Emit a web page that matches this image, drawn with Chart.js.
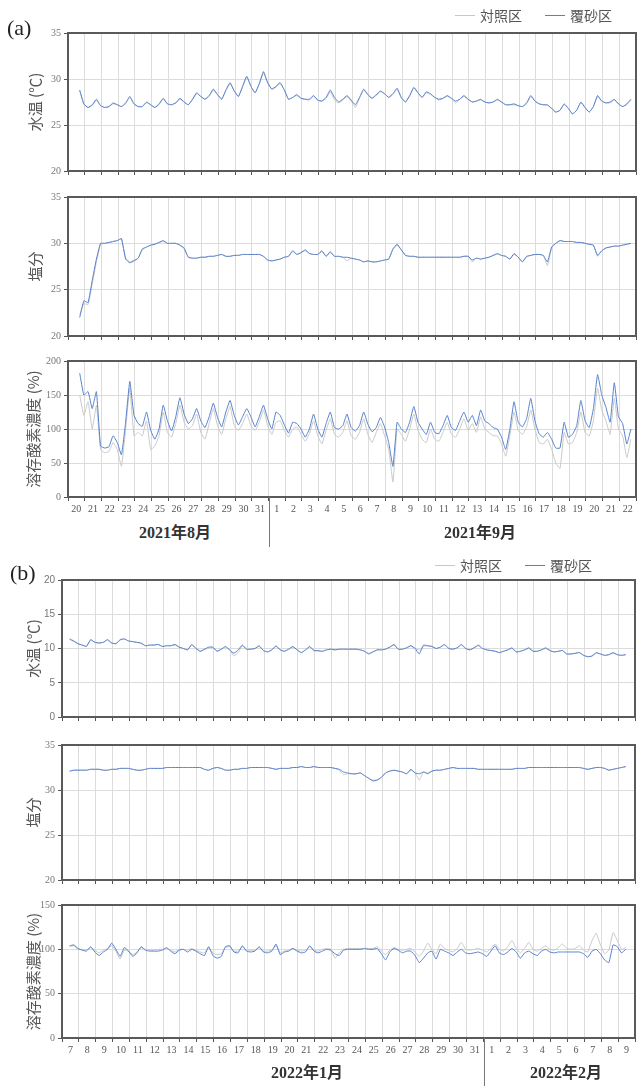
<!DOCTYPE html>
<html><head><meta charset="utf-8">
<script src="https://cdn.jsdelivr.net/npm/chart.js@4.4.1/dist/chart.umd.min.js"></script>
<style>
body{margin:0;background:#fff;width:638px;height:1086px;position:relative;overflow:hidden;font-family:'Noto Sans CJK JP',sans-serif;}
canvas{position:absolute;left:0;}
.t{position:absolute;white-space:nowrap;line-height:1;}
.tag{font-family:'Liberation Serif',serif;font-size:22px;color:#222;}
.lg{font-size:14px;color:#555;display:flex;align-items:center;}
.lg i{display:inline-block;width:20px;height:0;border-top:1.5px solid;margin-right:5px;}
.mon{font-family:'Liberation Serif','Noto Sans CJK JP',serif;font-weight:bold;font-size:16px;color:#333;transform:translate(-50%,-50%);}
.sep{position:absolute;width:1px;background:#777;}
</style></head><body>
<script>
// ---------- DATA ----------
const daysA = ['20','21','22','23','24','25','26','27','28','29','30','31','1','2','3','4','5','6','7','8','9','10','11','12','13','14','15','16','17','18','19','20','21','22'];
const daysB = ['7','8','9','10','11','12','13','14','15','16','17','18','19','20','21','22','23','24','25','26','27','28','29','30','31','1','2','3','4','5','6','7','8','9'];
const monthsA = ['2021年8月','2021年9月'];
const monthsB = ['2022年1月','2022年2月'];
const seriesNames = ['対照区','覆砂区'];
const startA = 0.7, startB = 0.45, stepDays = 0.25;

const tempA_sand = [28.8,27.3,
26.9,27.2,27.8,27.1, 26.9,27.0,27.4,27.2, 27.0,27.4,28.1,27.3, 27.0,27.0,27.5,27.2,
26.9,27.3,27.9,27.3, 27.2,27.4,27.9,27.5, 27.2,27.8,28.5,28.1, 27.8,28.2,28.9,28.3,
27.8,28.8,29.6,28.7, 28.1,29.2,30.3,29.2, 28.5,29.5,30.8,29.6, 28.9,29.2,29.6,28.8,
27.8,28.0,28.3,27.9, 27.8,27.8,28.2,27.7, 27.6,28.0,28.8,28.0, 27.5,27.8,28.2,27.7,
27.2,28.0,28.9,28.3, 27.9,28.3,28.7,28.4, 28.0,28.4,29.0,28.0, 27.5,28.2,29.1,28.5,
28.0,28.6,28.4,28.0, 27.8,27.9,28.2,27.9, 27.6,27.8,28.2,27.8, 27.5,27.6,27.8,27.5,
27.4,27.5,27.8,27.5, 27.2,27.2,27.3,27.1, 27.0,27.4,28.2,27.6, 27.3,27.2,27.2,26.8,
26.4,26.6,27.3,26.8, 26.2,26.6,27.5,26.9, 26.4,27.0,28.2,27.6, 27.4,27.5,27.8,27.3,
27.0,27.3,27.8];
const tempA_ctrl = [28.7,27.2,
26.9,27.1,27.7,27.1, 26.9,27.0,27.3,27.2, 27.0,27.3,28.0,27.3, 27.0,27.0,27.4,27.2,
26.9,27.2,27.8,27.3, 27.2,27.4,27.8,27.5, 27.2,27.7,28.4,28.1, 27.8,28.1,28.8,28.3,
27.8,28.7,29.5,28.7, 28.1,29.1,30.2,29.2, 28.5,29.4,30.7,29.6, 28.9,29.1,29.5,28.8,
27.8,28.0,28.2,27.9, 27.8,27.7,28.1,27.7, 27.6,27.9,28.6,27.7, 27.4,27.7,28.1,27.6,
26.9,27.9,28.8,28.3, 27.9,28.2,28.6,28.4, 28.0,28.3,28.9,27.9, 27.5,28.1,29.0,28.5,
28.0,28.5,28.3,28.0, 27.7,27.9,28.1,27.9, 27.4,27.8,28.1,27.8, 27.5,27.6,27.7,27.5,
27.4,27.5,27.7,27.5, 27.2,27.2,27.2,27.1, 27.0,27.3,28.1,27.6, 27.3,27.2,27.1,26.8,
26.4,26.6,27.2,26.8, 26.2,26.6,27.4,26.9, 26.4,27.0,28.1,27.6, 27.4,27.4,27.7,27.3,
27.0,27.2,27.7];

const salA_sand = [22.0,23.8,
23.6,26.0,28.3,30.0, 30.0,30.1,30.2,30.3, 30.5,28.3,27.9,28.1, 28.4,29.4,29.6,29.8,
29.9,30.1,30.3,30.0, 30.0,30.0,29.8,29.5, 28.5,28.4,28.4,28.5, 28.5,28.6,28.6,28.7,
28.8,28.6,28.6,28.7, 28.7,28.8,28.8,28.8, 28.8,28.8,28.6,28.2, 28.1,28.2,28.3,28.5,
28.6,29.2,28.8,29.0, 29.3,28.9,28.8,28.8, 29.2,28.6,29.1,28.6, 28.6,28.5,28.5,28.4,
28.3,28.2,28.0,28.1, 28.0,28.0,28.1,28.2, 28.3,29.4,29.9,29.3, 28.7,28.6,28.6,28.5,
28.5,28.5,28.5,28.5, 28.5,28.5,28.5,28.5, 28.5,28.5,28.6,28.6, 28.2,28.4,28.3,28.4,
28.5,28.7,28.9,28.7, 28.6,28.3,28.9,28.5, 28.0,28.6,28.7,28.8, 28.8,28.7,28.0,29.6,
30.0,30.3,30.2,30.2, 30.2,30.1,30.1,30.0, 29.9,29.8,28.7,29.2, 29.5,29.6,29.7,29.7,
29.8,29.9,30.0];
const salA_ctrl = [22.3,23.5,
23.4,25.6,28.0,29.9, 30.0,30.1,30.2,30.3, 30.5,28.4,28.0,28.2, 28.4,29.3,29.6,29.8,
29.9,30.1,30.2,30.0, 30.0,30.0,29.8,29.4, 28.5,28.4,28.4,28.5, 28.5,28.6,28.6,28.7,
28.8,28.6,28.6,28.7, 28.7,28.8,28.8,28.8, 28.8,28.8,28.6,28.2, 28.1,28.2,28.3,28.5,
28.6,29.1,28.8,29.0, 29.2,28.9,28.8,28.8, 29.1,28.6,29.0,28.6, 28.6,28.5,28.1,28.4,
28.3,28.2,28.0,28.1, 28.0,28.0,28.1,28.2, 28.3,29.3,29.8,29.3, 28.7,28.6,28.6,28.5,
28.5,28.5,28.5,28.5, 28.5,28.5,28.5,28.5, 28.5,28.5,28.6,28.6, 28.0,28.4,28.3,28.4,
28.5,28.7,28.8,28.7, 28.6,28.3,28.8,28.5, 28.0,28.5,28.7,28.8, 28.8,28.7,27.6,29.5,
30.0,30.3,30.2,30.2, 30.2,30.1,30.1,30.0, 29.9,29.8,28.6,29.2, 29.5,29.6,29.7,29.7,
29.8,29.9,30.0];

const doA_sand = [182,150,
155,130,155,75, 72,74,90,80, 62,110,170,120, 108,104,125,98,
85,100,135,112, 97,118,146,122, 108,115,130,112, 102,118,138,117,
103,125,142,120, 106,118,130,118, 103,118,135,115, 100,125,120,106,
94,110,108,100, 88,100,122,100, 88,108,125,102, 100,105,122,102,
97,105,125,107, 96,102,117,103, 80,45,110,100, 95,110,133,110,
100,92,110,95, 93,105,120,102, 98,112,125,110, 120,105,128,112,
108,102,100,88, 70,100,140,110, 103,115,145,112, 93,88,95,85,
72,72,110,88, 92,105,142,112, 102,130,180,150, 132,110,168,118,
108,78,100];
const doA_ctrl = [150,120,
140,100,135,70, 65,67,80,70, 45,100,160,90, 95,90,112,70,
75,90,125,95, 88,108,135,110, 100,105,122,95, 85,108,130,105,
92,115,133,105, 98,108,122,105, 98,110,128,105, 92,110,112,98,
88,100,103,92, 82,93,112,90, 78,98,115,92, 88,95,112,90,
85,95,115,92, 80,95,108,90, 70,22,100,92, 82,100,122,98,
85,80,100,85, 82,95,110,92, 88,100,115,98, 108,95,118,100,
95,90,90,78, 60,90,125,98, 92,103,128,100, 80,78,85,70,
50,42,95,78, 80,95,125,95, 90,112,160,128, 112,92,145,100,
90,58,85];

const tempB_sand = [11.4,11.1,10.7,
10.5,10.3,11.3,10.9, 10.8,10.9,11.3,10.8, 10.7,11.3,11.4,11.1, 11.0,10.9,10.8,10.4,
10.5,10.5,10.6,10.3, 10.4,10.4,10.6,10.2, 10.0,9.8,10.6,10.0, 9.6,9.9,10.2,10.2,
9.6,9.9,10.3,9.8, 9.3,9.8,10.5,9.9, 9.9,10.0,10.4,9.7, 9.5,9.8,10.4,9.8,
9.6,9.9,10.3,9.8, 9.4,9.8,10.3,9.7, 9.7,9.6,9.8,9.9, 9.8,9.9,9.9,9.9,
9.9,9.9,9.8,9.6, 9.2,9.5,9.8,9.8, 9.9,10.2,10.6,9.9, 9.9,10.1,10.4,10.0,
9.2,10.5,10.4,10.3, 10.0,10.2,10.6,10.0, 9.9,10.1,10.6,10.0, 9.8,10.1,10.5,10.0,
9.8,9.7,9.6,9.4, 9.6,9.8,10.1,9.5, 9.6,9.8,10.1,9.6, 9.6,9.8,10.1,9.7,
9.5,9.6,9.7,9.2, 9.2,9.3,9.4,9.0, 8.8,8.9,9.4,9.2, 9.0,9.1,9.4,9.1,
9.0,9.1];
const tempB_ctrl = [11.3,11.0,10.7,
10.5,10.3,11.2,10.9, 10.8,10.9,11.2,10.8, 10.7,11.2,11.4,11.1, 11.0,10.9,10.7,10.4,
10.5,10.5,10.6,10.3, 10.4,10.4,10.5,10.2, 10.0,9.8,10.5,10.0, 9.6,9.8,10.1,10.1,
9.6,9.9,10.2,9.8, 8.9,9.4,10.4,9.9, 9.9,10.0,10.3,9.7, 9.5,9.8,10.3,9.8,
9.6,9.9,10.2,9.8, 9.4,9.8,10.2,9.7, 9.6,9.6,9.8,9.9, 9.8,9.9,9.9,9.9,
9.9,9.9,9.8,9.6, 9.3,9.5,9.8,9.8, 9.9,10.2,10.5,9.9, 9.9,10.1,10.4,10.0,
9.8,10.3,10.4,10.3, 10.0,10.2,10.5,10.0, 9.9,10.1,10.5,10.0, 9.8,10.1,10.4,10.0,
9.8,9.7,9.6,9.4, 9.6,9.8,10.0,9.5, 9.6,9.8,10.0,9.6, 9.6,9.8,10.0,9.7,
9.5,9.6,9.7,9.2, 9.2,9.3,9.4,9.0, 8.8,8.9,9.3,9.2, 9.0,9.1,9.3,9.1,
9.0,9.1];

const salB_sand = [32.1,32.2,32.2,
32.2,32.2,32.3,32.3, 32.3,32.2,32.2,32.3, 32.3,32.4,32.4,32.4, 32.3,32.2,32.2,32.3,
32.4,32.4,32.4,32.4, 32.5,32.5,32.5,32.5, 32.5,32.5,32.5,32.5, 32.5,32.3,32.2,32.4,
32.5,32.4,32.2,32.2, 32.3,32.3,32.4,32.4, 32.5,32.5,32.5,32.5, 32.5,32.4,32.3,32.4,
32.4,32.4,32.5,32.5, 32.6,32.5,32.5,32.6, 32.5,32.5,32.5,32.5, 32.4,32.3,32.0,31.9,
31.8,31.8,31.9,31.6, 31.3,31.0,31.1,31.4, 31.9,32.1,32.2,32.1, 32.0,31.8,32.3,31.9,
31.8,32.0,31.8,32.1, 32.2,32.2,32.3,32.4, 32.5,32.4,32.4,32.4, 32.4,32.4,32.3,32.3,
32.3,32.3,32.3,32.3, 32.3,32.3,32.3,32.4, 32.4,32.4,32.5,32.5, 32.5,32.5,32.5,32.5,
32.5,32.5,32.5,32.5, 32.5,32.5,32.5,32.4, 32.3,32.4,32.5,32.5, 32.4,32.2,32.3,32.4,
32.5,32.6];
const salB_ctrl = [32.1,32.2,32.2,
32.2,32.2,32.3,32.3, 32.3,32.2,32.2,32.3, 32.3,32.4,32.4,32.4, 32.3,32.2,32.2,32.3,
32.4,32.4,32.4,32.4, 32.5,32.5,32.5,32.5, 32.5,32.5,32.5,32.5, 32.5,32.3,32.2,32.4,
32.5,32.4,32.2,32.2, 32.3,32.3,32.4,32.4, 32.5,32.5,32.5,32.5, 32.5,32.4,32.3,32.4,
32.4,32.4,32.5,32.5, 32.6,32.5,32.5,32.6, 32.5,32.5,32.5,32.5, 32.4,32.2,31.7,31.8,
31.8,31.8,31.9,31.6, 31.3,31.1,31.1,31.4, 31.9,32.1,32.2,32.1, 32.0,31.8,32.2,31.9,
31.1,32.0,31.9,32.1, 32.2,32.2,32.3,32.4, 32.5,32.4,32.4,32.4, 32.4,32.4,32.3,32.3,
32.3,32.3,32.3,32.3, 32.3,32.3,32.3,32.4, 32.4,32.4,32.5,32.5, 32.5,32.5,32.5,32.5,
32.5,32.5,32.5,32.5, 32.5,32.5,32.5,32.4, 32.3,32.4,32.5,32.5, 32.4,32.2,32.3,32.4,
32.5,32.6];

const doB_sand = [104,105,101,
99,98,103,97, 93,97,100,107, 100,92,102,98, 92,96,103,99,
98,98,98,99, 102,98,95,99, 100,97,100,98, 95,93,103,93,
90,92,103,104, 97,96,104,98, 97,98,103,97, 96,98,106,94,
97,98,101,98, 96,97,104,98, 96,98,100,99, 95,93,99,100,
100,100,100,101, 100,100,101,95, 88,97,101,99, 96,98,98,93,
85,90,96,98, 89,100,98,96, 93,97,100,96, 95,96,97,95,
92,98,104,96, 94,97,101,97, 90,96,98,95, 93,98,100,97,
96,97,97,97, 97,97,97,95, 91,98,100,95, 88,85,105,103,
96,100];
const doB_ctrl = [103,104,100,
100,99,102,99, 96,99,101,104, 98,89,99,98, 94,97,102,100,
99,99,100,100, 101,99,97,100, 100,99,101,99, 97,96,102,96,
94,95,102,103, 98,98,103,99, 99,99,102,98, 98,99,104,96,
98,99,101,99, 98,99,103,99, 98,100,101,100, 90,96,100,101,
101,101,101,101, 101,101,103,98, 94,99,102,100, 99,100,101,97,
92,98,107,100, 95,106,101,99, 97,101,108,100, 99,100,101,99,
97,101,106,100, 98,103,110,101, 96,101,108,100, 98,101,104,100,
99,102,106,101, 100,101,104,99, 97,110,118,105, 95,99,119,110,
100,102];

// ---------- STYLE / LAYOUT ----------
const BLUE = '#5580cc', GRAY = '#c8c8c8';
const serif = "'Liberation Serif', serif", sans = "'Liberation Sans', 'Open Sans', sans-serif";
const cjk = "'Noto Sans CJK JP', sans-serif";

function toXY(arr, start){ return arr.map((v,i)=>({x:start+i*stepDays, y:v})); }

const framePlugin = {id:'frame', afterDatasetsDraw(c){
  const a=c.chartArea, g=c.ctx; g.save(); g.strokeStyle='#5a5a5a'; g.lineWidth=2;
  g.strokeRect(a.left,a.top,a.right-a.left,a.bottom-a.top); g.restore(); }};

function panel(p){
  const padTop = 10;
  const xh = p.labels ? 26 : 8;
  const cv = document.createElement('canvas');
  const H = padTop + (p.bottom - p.top) + xh;
  cv.width = 638; cv.height = H;
  cv.style.top = (p.top - padTop) + 'px';
  cv.style.width = '638px'; cv.style.height = H + 'px';
  document.body.appendChild(cv);
  const dayW = (p.right - p.left) / 34;
  new Chart(cv, {
    type:'line',
    data:{datasets:[
      {label:seriesNames[1], data:toXY(p.sand,p.start), borderColor:BLUE, borderWidth:1, pointRadius:0, tension:0.12, order:0},
      {label:seriesNames[0], data:toXY(p.ctrl,p.start), borderColor:GRAY, borderWidth:1, pointRadius:0, tension:0.12, order:1}
    ]},
    options:{
      responsive:false, animation:false, devicePixelRatio:1,
      layout:{padding:{top:padTop,right:638-p.right,bottom:0,left:0}},
      plugins:{legend:{display:false}, tooltip:{enabled:false}},
      scales:{
        x:{type:'linear', min:0, max:34,
          afterBuildTicks(s){ s.ticks = Array.from({length:35},(_,i)=>({value:i})); },
          afterFit(s){ s.height = xh; },
          ticks:{display:!!p.labels, autoSkip:false, maxRotation:0, labelOffset:dayW/2, padding:2,
            color:'#555', font:{family:serif,size:10},
            callback:(v,i)=> p.labels ? (p.labels[i] ?? '') : ''},
          grid:{color:'#dcdcdc', lineWidth:1, tickLength:4, tickColor:'#555'},
          border:{display:false}},
        y:{min:p.ymin, max:p.ymax,
          afterFit(s){ s.width = p.left; },
          ticks:{stepSize:p.step, color:'#777', font:{family:p.tickFont||serif,size:10}, padding:3},
          grid:{color:'#dcdcdc', lineWidth:1, tickLength:4, tickColor:'#555'},
          border:{display:false},
          title:{display:true, text:p.title, color:'#555', font:{family:cjk,size:15}, padding:{top:p.titlePad,bottom:0}}}
      }
    },
    plugins:[framePlugin]
  });
}

const A = {left:68, right:636, start:startA};
const B = {left:62, right:635, start:startB};
panel({...A, top:33, bottom:172, ymin:20, ymax:35, step:5, title:'水温 (℃)', sand:tempA_sand, ctrl:tempA_ctrl, titlePad:26});
panel({...A, top:197, bottom:337, ymin:20, ymax:35, step:5, title:'塩分', sand:salA_sand, ctrl:salA_ctrl, titlePad:26});
panel({...A, top:361, bottom:497, ymin:0, ymax:200, step:50, title:'溶存酸素濃度 (%)', sand:doA_sand, ctrl:doA_ctrl, titlePad:24, labels:daysA});
panel({...B, top:580, bottom:718, ymin:0, ymax:20, step:5, title:'水温 (℃)', sand:tempB_sand, ctrl:tempB_ctrl, titlePad:24, tickFont:sans});
panel({...B, top:745, bottom:881, ymin:20, ymax:35, step:5, title:'塩分', sand:salB_sand, ctrl:salB_ctrl, titlePad:24});
panel({...B, top:905, bottom:1038, ymin:0, ymax:150, step:50, title:'溶存酸素濃度 (%)', sand:doB_sand, ctrl:doB_ctrl, titlePad:24, labels:daysB});

// ---------- TEXT OVERLAYS ----------
function txt(html, cls, left, top){ const d=document.createElement('div'); d.className='t '+cls; d.innerHTML=html; d.style.left=left+'px'; d.style.top=top+'px'; document.body.appendChild(d); return d; }
function legend(left, top){
  txt('<i style="border-color:'+GRAY+'"></i>'+seriesNames[0], 'lg', left, top);
  txt('<i style="border-color:'+BLUE+'"></i>'+seriesNames[1], 'lg', left+90, top);
}
function sep(x, y1, y2){ const d=document.createElement('div'); d.className='sep'; d.style.left=x+'px'; d.style.top=y1+'px'; d.style.height=(y2-y1)+'px'; document.body.appendChild(d); }

txt('(a)', 'tag', 7, 17);
txt('(b)', 'tag', 10, 562);
legend(455, 8);
legend(435, 558);
txt(monthsA[0], 'mon', 175, 533);
txt(monthsA[1], 'mon', 480, 533);
txt(monthsB[0], 'mon', 307, 1073);
txt(monthsB[1], 'mon', 566, 1073);
sep(269, 497, 547);
sep(484, 1038, 1086);
</script>
</body></html>
